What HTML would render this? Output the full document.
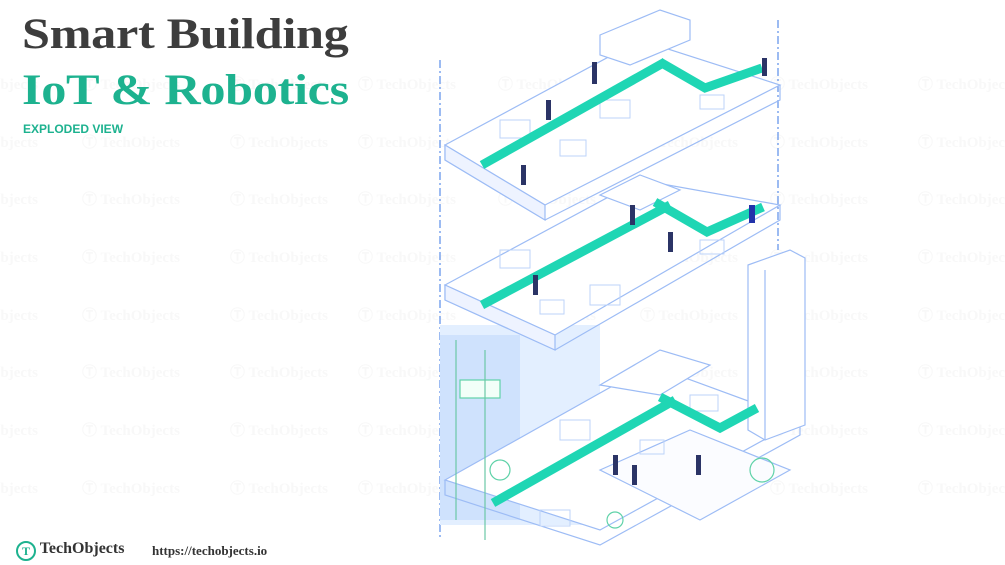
<!DOCTYPE html>
<html><head><meta charset="utf-8"><style>
body{margin:0;width:1005px;height:565px;overflow:hidden;background:#fff;font-family:"Liberation Sans",sans-serif;position:relative}
#wms{position:absolute;left:0;top:0;width:1005px;height:565px;overflow:hidden}
.t1,.t2{position:absolute;left:22px;font:bold 43px "Liberation Serif",serif;letter-spacing:-0.3px;transform:scaleX(1.17);transform-origin:left top;white-space:nowrap}
.t1{top:10px;color:#3d3d3d}
.t2{top:66px;color:#1db28f}
.t3{position:absolute;left:23px;top:122px;font:bold 12px "Liberation Sans",sans-serif;color:#1db28f}
.wm{position:absolute;font:bold 15px "Liberation Serif",serif;color:#f8f8f8;white-space:nowrap}
.logo{position:absolute;left:16px;top:540px;font:bold 16px "Liberation Serif",serif;color:#333}
.url{position:absolute;left:152px;top:543px;font:bold 13px "Liberation Serif",serif;color:#333}
</style></head><body>
<div id="wms"></div>
<script>
var s='',ys=[82,140,197,255,313,370,428,486],xs=[-60,82,230,358,498,640,770,918];
for(var i=0;i<ys.length;i++)for(var j=0;j<xs.length;j++)s+='<div class="wm" style="left:'+xs[j]+'px;top:'+(ys[i]-9)+'px">Ⓣ TechObjects</div>';
document.getElementById('wms').innerHTML=s;
</script>
<svg width="1005" height="565" style="position:absolute;left:0;top:0" fill="none" stroke="#9dbcf5" stroke-width="1.2">
<line x1="440" y1="60" x2="440" y2="540" stroke="#5b8ee8" stroke-dasharray="8 3 2 3"/>
<line x1="778" y1="20" x2="778" y2="250" stroke="#5b8ee8" stroke-dasharray="8 3 2 3"/>
<polygon points="440,325 600,325 600,525 440,525" fill="#e3efff" stroke="none"/>
<polygon points="440,335 520,335 520,520 440,520" fill="#cfe2fd" stroke="none"/>
<path d="M445,480 L650,365 L800,420 L600,530 Z" fill="#fff"/>
<path d="M445,480 L445,495 L600,545 L800,435 L800,420"/>
<path d="M600,470 L690,430 L790,470 L700,520 Z" fill="#fbfcff"/>
<path d="M748,265 L790,250 L805,258 L805,425 L765,440 L748,430 Z" fill="#fff"/>
<line x1="765" y1="270" x2="765" y2="440"/>
<path d="M445,285 L640,180 L780,205 L555,335 Z" fill="#fff"/>
<path d="M445,285 L445,300 L555,350 L780,220 L780,205"/>
<path d="M445,300 L555,350 L555,335 L445,285Z" fill="#eef3ff"/>
<path d="M445,145 L640,40 L780,85 L545,205 Z" fill="#fff"/>
<path d="M445,145 L445,160 L545,220 L780,100 L780,85"/>
<path d="M445,160 L545,220 L545,205 L445,145Z" fill="#eef3ff"/>
<path d="M600,35 L660,10 L690,20 L690,40 L630,65 L600,55Z" fill="#fff"/>
<path d="M600,195 L640,175 L680,190 L640,210Z" fill="#fff"/>
<path d="M600,385 L660,350 L710,365 L660,395Z" fill="#fff"/>
<g stroke="#bcd3fa" stroke-width="1">
<rect x="500" y="120" width="30" height="18"/><rect x="560" y="140" width="26" height="16"/><rect x="600" y="100" width="30" height="18"/>
<rect x="700" y="95" width="24" height="14"/><rect x="500" y="250" width="30" height="18"/><rect x="590" y="285" width="30" height="20"/>
<rect x="700" y="240" width="24" height="14"/><rect x="540" y="300" width="24" height="14"/><rect x="560" y="420" width="30" height="20"/>
<rect x="640" y="440" width="24" height="14"/><rect x="690" y="395" width="28" height="16"/><rect x="540" y="510" width="30" height="16"/>
</g>
<g stroke="#1fd6b4" stroke-width="9">
<polyline points="482,165 665,62"/>
<polyline points="660,62 705,88 762,68"/>
<polyline points="482,305 670,205"/>
<polyline points="655,202 707,232 763,207"/>
<polyline points="493,503 675,400"/>
<polyline points="660,397 720,428 757,408"/>
</g>
<g fill="#2b3466" stroke="none">
<rect x="521" y="165" width="5" height="20"/><rect x="546" y="100" width="5" height="20"/>
<rect x="630" y="205" width="5" height="20"/><rect x="668" y="232" width="5" height="20"/>
<rect x="533" y="275" width="5" height="20"/><rect x="613" y="455" width="5" height="20"/>
<rect x="632" y="465" width="5" height="20"/><rect x="696" y="455" width="5" height="20"/>
<rect x="592" y="62" width="5" height="22"/><rect x="762" y="58" width="5" height="18"/>
<rect x="749" y="205" width="6" height="18" fill="#2233aa"/>
</g>
<g stroke="#5fd2a8">
<circle cx="762" cy="470" r="12"/><rect x="460" y="380" width="40" height="18" fill="#f2fff8"/>
<circle cx="500" cy="470" r="10"/><circle cx="615" cy="520" r="8"/>
</g>
<line x1="456" y1="340" x2="456" y2="520" stroke="#6cc7a7"/>
<line x1="485" y1="350" x2="485" y2="540" stroke="#6cc7a7"/>
</svg>
<div class="t1">Smart Building</div>
<div class="t2">IoT &amp; Robotics</div>
<div class="t3">EXPLODED VIEW</div>
<div class="logo"><span style="display:inline-block;width:16px;height:16px;border:2px solid #1db28f;border-radius:50%;text-align:center;font-size:12px;line-height:16px;color:#1db28f;vertical-align:-2px">T</span> TechObjects</div>
<div class="url">https://techobjects.io</div>
</body></html>
